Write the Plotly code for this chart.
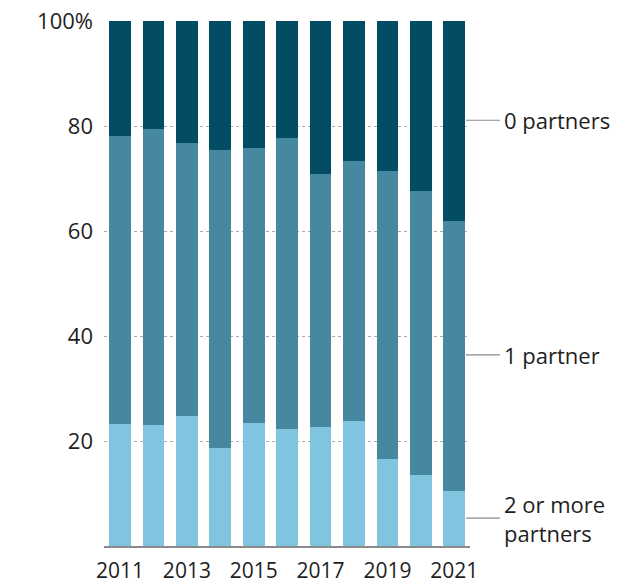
import plotly.graph_objects as go

years = [2011, 2012, 2013, 2014, 2015, 2016, 2017, 2018, 2019, 2020, 2021]
two_plus = [23.2, 23.0, 24.8, 18.6, 23.4, 22.3, 22.7, 23.9, 16.6, 13.5, 10.4]
one = [54.9, 56.5, 51.9, 56.8, 52.4, 55.4, 48.2, 49.4, 54.8, 54.2, 51.5]
zero = [21.9, 20.5, 23.3, 24.6, 24.2, 22.3, 29.1, 26.7, 28.6, 32.3, 38.1]

y_ticks = [20, 40, 60, 80, 100]
y_ticktext = ["20", "40", "60", "80", "100%"]
x_ticks = [2011, 2013, 2015, 2017, 2019, 2021]

labels = [("0 partners", 81.1), ("1 partner", 36.4), ("2 or more<br>partners", 5.3)]

colors = ["#80c4df", "#45889f", "#024d63"]
FONT = "Open Sans"
TXT = "#1e1e1e"

fig = go.Figure()
for name, vals, c in [("2 or more partners", two_plus, colors[0]),
                      ("1 partner", one, colors[1]),
                      ("0 partners", zero, colors[2])]:
    fig.add_trace(go.Bar(x=years, y=vals, name=name, marker_color=c,
                         marker_line_width=0, width=0.65))

for text, yv in labels:
    fig.add_shape(type="line", xref="paper", yref="y", x0=0.989, x1=1.082,
                  y0=yv, y1=yv, line=dict(color="#8a8a8a", width=1.2))
    fig.add_annotation(xref="paper", yref="y", x=1.088, y=yv, text=text,
                       showarrow=False, xanchor="left", yanchor="middle",
                       align="left", font=dict(family=FONT, size=22, color=TXT))

fig.update_layout(
    barmode="stack",
    width=620, height=586,
    margin=dict(l=104, r=150, t=21, b=40, autoexpand=False),
    plot_bgcolor="white", paper_bgcolor="white",
    showlegend=False,
    font=dict(family=FONT, size=22, color=TXT),
)
fig.update_xaxes(range=[2010.52, 2021.47], tickvals=x_ticks, ticktext=[str(v) for v in x_ticks],
                 showline=True, linecolor="#8a8a8a", linewidth=1.5, showgrid=False,
                 ticks="", automargin=False, ticklabelstandoff=5, ticklabeloverflow="allow",
                 tickfont=dict(family=FONT, size=21, color=TXT))
fig.update_yaxes(range=[0, 100], tickvals=y_ticks, ticktext=y_ticktext,
                 showgrid=True, gridcolor="#aaaaaa", griddash="dot", gridwidth=1,
                 zeroline=False, ticks="", ticklabelstandoff=10, automargin=False,
                 ticklabeloverflow="allow",
                 tickfont=dict(family=FONT, size=22, color=TXT))

fig.write_html("out.html", config={"displayModeBar": False},
               post_script="document.body.style.margin='0';document.body.style.overflow='hidden';")
